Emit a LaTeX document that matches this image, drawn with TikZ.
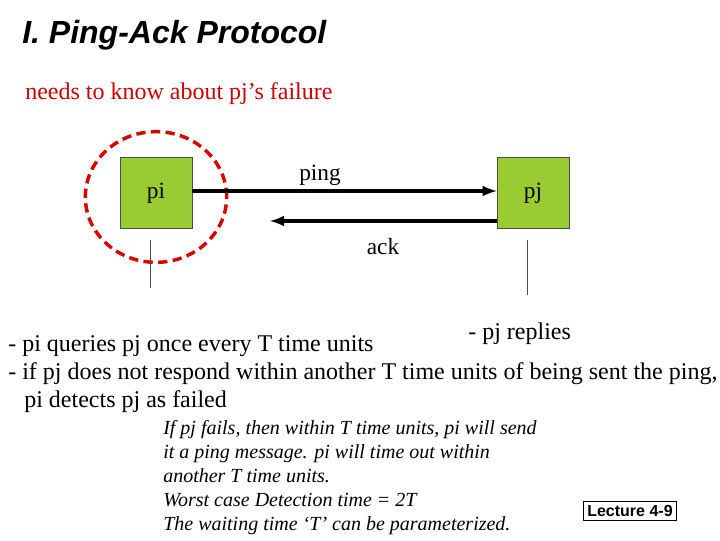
\documentclass[tikz,border=0pt]{standalone}
\usepackage{fontspec}
\usetikzlibrary{shapes.geometric}
\setmainfont{Liberation Serif}
\setsansfont{Liberation Sans}
\begin{document}
\begin{tikzpicture}[x=0.75pt,y=-0.75pt,
  proc/.style={draw=black!70,fill=boxgreen,minimum width=54pt,minimum height=53pt,inner sep=0pt,font=\fontsize{17.5}{20}\selectfont},
  body/.style={anchor=base west,inner sep=0pt,font=\fontsize{18}{21}\selectfont},
  note/.style={anchor=north west,inner sep=0pt,align=left,font=\fontsize{15}{18}\selectfont\itshape}]
\definecolor{boxgreen}{HTML}{99CC33}
\definecolor{titlered}{HTML}{CC0000}
\useasboundingbox (0,0) rectangle (720,540);
\node[anchor=base west,inner sep=0pt,font=\fontsize{24}{27}\selectfont\sffamily\bfseries\itshape] (title) at (22,43) {I. Ping-Ack Protocol};
\node[anchor=base west,inner sep=0pt,text=titlered,font=\fontsize{18}{21}\selectfont] (need) at (25,99) {needs to know about pj’s failure};
\node[proc] (pi) at (156,193) {pi};
\node[proc] (pj) at (533,193) {pj};
\node[draw=red!85!black,line width=2.6pt,dash pattern=on 7pt off 4pt,ellipse,minimum width=106pt,minimum height=98pt] (circ) at (156,197) {};
\coordinate (ackend) at (270,221);
\draw[line width=2.6pt,-latex] (pi.east |- 0,191) -- (pj.west |- 0,191);
\draw[line width=2.6pt,-latex] (pj.west |- 0,221) -- (ackend);
\node[anchor=base,font=\fontsize{17.5}{20}\selectfont] (ping) at (320,180) {ping};
\node[anchor=base,font=\fontsize{17.5}{20}\selectfont] (ack) at (383,254) {ack};
\coordinate (la) at (150,240); \coordinate (lb) at (150,288);
\coordinate (ra) at (527,240); \coordinate (rb) at (527,295);
\draw[black!70] (la) -- (lb);
\draw[black!70] (ra) -- (rb);
\node[body] (rep) at (468,339) {- pj replies};
\node[body] (l1) at (8,351) {- pi queries pj once every T time units};
\node[body] (l2) at (8,379) {- if pj does not respond within another T time units of being sent the ping,};
\node[body] (l3) at (24,407) {pi detects pj as failed};
\node[note] (nt) at (163,420) {If pj fails, then within T time units, pi will send\\it a ping message. pi will time out within\\another T time units.\\Worst case Detection time = 2T\\The waiting time ‘T’ can be parameterized.};
\node[draw,line width=1pt,inner sep=3pt,font=\fontsize{12}{14}\selectfont\sffamily\bfseries] (lec) at (630,511) {Lecture 4-9};
\end{tikzpicture}
\end{document}
